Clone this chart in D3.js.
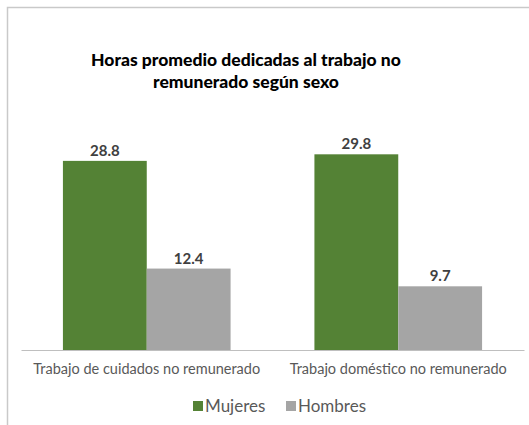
<!DOCTYPE html>
<html>
<head>
<meta charset="utf-8">
<script src="https://cdn.jsdelivr.net/npm/d3@7"></script>
<style>
  body { margin: 0; background: #fff; }
  svg { display: block; font-family: Lato, "Open Sans", sans-serif; }
</style>
</head>
<body>
<div id="chart"></div>
<script>
var titleLines = ["Horas promedio dedicadas al trabajo no", "remunerado según sexo"];
var categories = ["Trabajo de cuidados no remunerado", "Trabajo doméstico no remunerado"];
var seriesNames = ["Mujeres", "Hombres"];
var mujeres = [28.8, 29.8];
var hombres = [12.4, 9.7];
var colors = ["#548235", "#a5a5a5"];

function createChart()
{
    var width = 529, height = 425;
    var base = 350;

    var svg = d3.select("#chart").append("svg")
    .attr("width", width)
    .attr("height", height);

    svg.append("rect")
      .attr("width", width).attr("height", height)
      .attr("fill", "#fff");

    // chart frame (only top and left edges are visible in the crop)
    svg.append("path")
      .attr("d", "M7.5," + height + "V7.5H" + width)
      .attr("fill", "none")
      .attr("stroke", "#c9c9c9")
      .attr("stroke-width", 1.5);

    var x0 = d3.scaleBand().domain(categories).range([21, 524]);
    var x1 = d3.scaleBand().domain(seriesNames)
      .range([0, x0.bandwidth()]).paddingOuter(0.5).paddingInner(0);
    var y = d3.scaleLinear().domain([0, 30]).range([base, 153]);

    var data = categories.map((c, i) => {
        return {cat: c, values: [
            {name: seriesNames[0], value: mujeres[i]},
            {name: seriesNames[1], value: hombres[i]}
        ]};
    });

    // title
    svg.append("text")
      .attr("x", 246)
      .attr("y", 66)
      .attr("text-anchor", "middle")
      .style("font-weight", "900")
      .style("font-size", "17.5px")
      .attr("fill", "#000")
      .selectAll("tspan")
      .data(titleLines)
      .enter().append("tspan")
      .attr("x", 246)
      .attr("dy", (d, i) => i == 0 ? 0 : 22)
      .text(d => d);

    var groups = svg.selectAll(".grp")
      .data(data)
      .enter().append("g")
      .attr("class", "grp")
      .attr("transform", d => "translate(" + x0(d.cat) + ",0)");

    groups.selectAll("rect")
      .data(d => d.values)
      .enter().append("rect")
      .attr("x", d => x1(d.name))
      .attr("y", d => y(d.value))
      .attr("width", x1.bandwidth())
      .attr("height", d => base - y(d.value))
      .attr("fill", (d, i) => colors[i]);

    groups.selectAll(".val")
      .data(d => d.values)
      .enter().append("text")
      .attr("class", "val")
      .attr("x", d => x1(d.name) + x1.bandwidth() / 2)
      .attr("y", d => y(d.value) - 5)
      .attr("text-anchor", "middle")
      .style("font-weight", "bold")
      .style("font-size", "15px")
      .attr("fill", "#404040")
      .text(d => d.value.toFixed(1));

    var axis = svg.append("g")
      .attr("transform", "translate(0," + base + ")")
      .call(d3.axisBottom(x0).tickSize(0).tickPadding(14));
    axis.select(".domain").attr("stroke", "#bfbfbf").attr("stroke-width", 1.2);
    axis.selectAll("text")
      .style("font-family", "Lato, sans-serif")
      .style("font-size", "14.5px")
      .attr("fill", "#595959");

    // legend
    var legendX = [193, 286];
    var legend = svg.selectAll(".leg")
      .data(seriesNames)
      .enter().append("g")
      .attr("class", "leg")
      .attr("transform", (d, i) => "translate(" + legendX[i] + ",401)");
    legend.append("rect")
      .attr("width", 10).attr("height", 10)
      .attr("fill", (d, i) => colors[i]);
    legend.append("text")
      .attr("x", 12)
      .attr("y", 10.5)
      .style("font-size", "17px")
      .attr("fill", "#595959")
      .text(d => d);
}

createChart();
</script>
</body>
</html>
